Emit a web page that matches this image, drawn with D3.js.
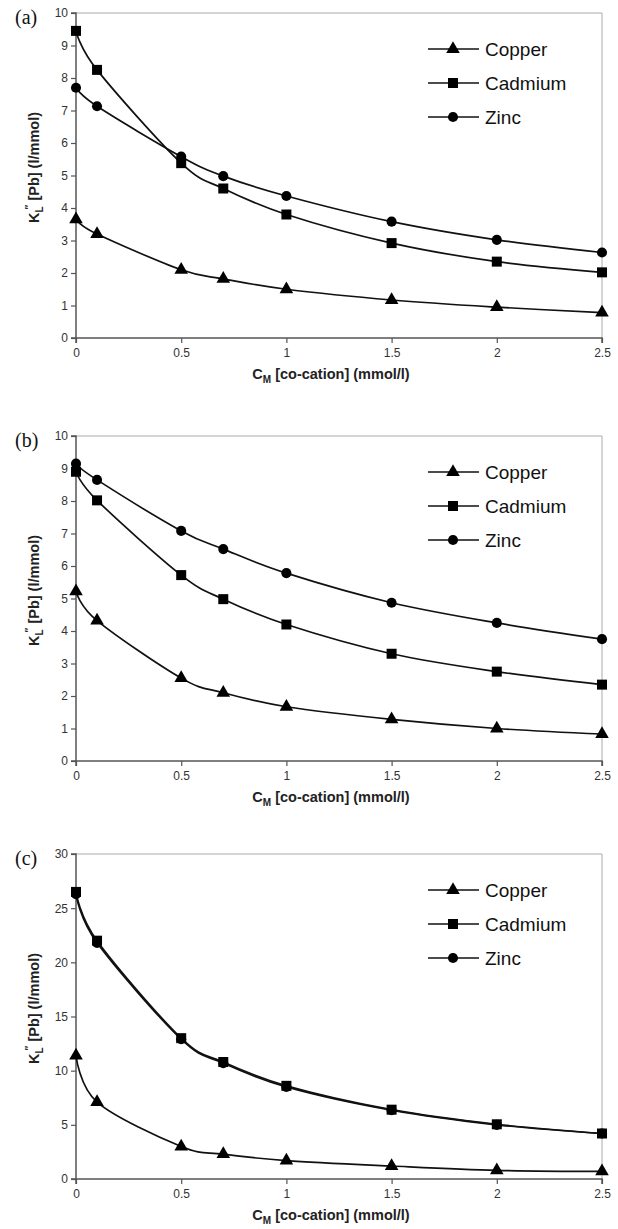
<!DOCTYPE html>
<html>
<head>
<meta charset="utf-8">
<script src="https://cdn.jsdelivr.net/npm/d3@7"></script>
<style>
  body { margin: 0; background: #fff; }
  svg { display: block; }
  .tick text { font-family: "Liberation Sans", Arial, sans-serif; font-size: 12px; fill: #333; }
</style>
</head>
<body>
<svg id="chart" width="618" height="1229"></svg>
<script>
// concentrations of the co-cation (mmol/l)
var conc = [0, 0.1, 0.5, 0.7, 1, 1.5, 2, 2.5];
var xTicks = [0, 0.5, 1, 1.5, 2, 2.5];

var metals = ['Copper', 'Cadmium', 'Zinc'];

// panel (a)
var copperA  = [3.65, 3.2, 2.1, 1.82, 1.5, 1.17, 0.95, 0.78];
var cadmiumA = [9.45, 8.25, 5.38, 4.6, 3.8, 2.92, 2.35, 2.02];
var zincA    = [7.7, 7.13, 5.58, 4.98, 4.37, 3.58, 3.02, 2.63];

// panel (b)
var copperB  = [5.22, 4.32, 2.55, 2.1, 1.67, 1.28, 1.0, 0.83];
var cadmiumB = [8.9, 8.02, 5.72, 4.98, 4.2, 3.3, 2.75, 2.35];
var zincB    = [9.15, 8.65, 7.08, 6.52, 5.78, 4.87, 4.25, 3.75];

// panel (c)
var copperC  = [11.4, 7.1, 3.0, 2.3, 1.7, 1.2, 0.8, 0.7];
var cadmiumC = [26.5, 22.0, 13.0, 10.8, 8.6, 6.4, 5.05, 4.2];
var zincC    = [26.3, 21.8, 12.9, 10.7, 8.5, 6.35, 5.0, 4.2];

var panelLabels = ['(a)', '(b)', '(c)'];
var yMax = [10, 10, 30];
var yTicksA = [0, 1, 2, 3, 4, 5, 6, 7, 8, 9, 10];
var yTicksC = [0, 5, 10, 15, 20, 25, 30];

var panels = [
  {label: panelLabels[0], top: 13,  ymax: yMax[0], ticks: yTicksA, series: [copperA, cadmiumA, zincA]},
  {label: panelLabels[1], top: 436, ymax: yMax[1], ticks: yTicksA, series: [copperB, cadmiumB, zincB]},
  {label: panelLabels[2], top: 854, ymax: yMax[2], ticks: yTicksC, series: [copperC, cadmiumC, zincC]}
];

var svg = d3.select('#chart');

var left = 76, right = 602, plotH = 325;
var font = '"Liberation Sans", Arial, sans-serif';

var x = d3.scaleLinear().domain([0, 2.5]).range([left, right]);

var symbols = [d3.symbolTriangle, d3.symbolSquare, d3.symbolCircle];
var symSize = [80, 100, 80];

panels.forEach(function(p){

  var y = d3.scaleLinear().domain([0, p.ymax]).range([p.top + plotH, p.top]);
  var g = svg.append('g');

  // light frame top / right
  g.append('path')
    .attr('d', 'M' + left + ',' + p.top + 'H' + right + 'V' + (p.top + plotH))
    .attr('fill', 'none')
    .attr('stroke', '#aaa')
    .attr('stroke-width', 1);

  var yAxis = d3.axisLeft(y).tickValues(p.ticks).tickSize(5).tickPadding(3).tickFormat(d3.format('d'));
  var xAxis = d3.axisBottom(x).tickValues(xTicks).tickSize(5).tickPadding(5).tickFormat(function(d){ return d; });

  var ya = g.append('g').attr('transform', 'translate(' + left + ',0)').call(yAxis);
  var xa = g.append('g').attr('transform', 'translate(0,' + (p.top + plotH) + ')').call(xAxis);
  [ya, xa].forEach(function(a){
    a.select('.domain').attr('stroke', '#555').attr('stroke-width', 1.5);
    a.selectAll('.tick line').attr('stroke', '#555').attr('stroke-width', 1.2);
  });
  xa.select('.domain').attr('d', 'M' + left + ',5V0H' + right + 'V5');
  ya.select('.domain').attr('d', 'M-5,' + p.top + 'H0V' + (p.top + plotH) + 'H-5');

  // lines
  var line = d3.line()
    .x(function(d, i){ return x(conc[i]); })
    .y(function(d){ return y(d); })
    .curve(d3.curveCatmullRom.alpha(0));

  // draw zinc first so cadmium shows on top like the original
  [2, 1, 0].forEach(function(k){
    g.append('path')
      .datum(p.series[k])
      .attr('d', line)
      .attr('fill', 'none')
      .attr('stroke', '#111')
      .attr('stroke-width', 1.7);
  });

  [2, 1, 0].forEach(function(k){
    g.selectAll('.m' + k)
      .data(p.series[k])
      .enter().append('path')
      .attr('class', 'm' + k)
      .attr('transform', function(d, i){ return 'translate(' + x(conc[i]) + ',' + y(d) + ')'; })
      .attr('d', d3.symbol().type(symbols[k]).size(symSize[k]))
      .attr('fill', '#000');
  });

  // legend
  metals.forEach(function(m, k){
    var ly = p.top + 36 + k * 34;
    g.append('line')
      .attr('x1', 428).attr('x2', 479)
      .attr('y1', ly).attr('y2', ly)
      .attr('stroke', '#111').attr('stroke-width', 1.7);
    g.append('path')
      .attr('transform', 'translate(453,' + ly + ')')
      .attr('d', d3.symbol().type(symbols[k]).size(symSize[k]))
      .attr('fill', '#000');
    g.append('text')
      .attr('x', 485).attr('y', ly + 7)
      .attr('font-family', font).attr('font-size', 19)
      .attr('fill', '#111')
      .text(m);
  });

  // panel label
  g.append('text')
    .attr('x', 15).attr('y', p.top + 11)
    .attr('font-family', '"Liberation Serif", "Times New Roman", serif')
    .attr('font-size', 20)
    .attr('fill', '#111')
    .text(p.label);

  // x title
  var xt = g.append('text')
    .attr('x', 331).attr('y', p.top + plotH + 41)
    .attr('text-anchor', 'middle')
    .attr('font-family', font).attr('font-size', 14.5).attr('font-weight', 'bold')
    .attr('fill', '#222');
  xt.append('tspan').text('C');
  xt.append('tspan').attr('font-size', 10).attr('dy', 4).text('M');
  xt.append('tspan').attr('dy', -4).text(' [co-cation] (mmol/l)');

  // y title
  var yt = g.append('text')
    .attr('transform', 'translate(' + 39 + ',' + (p.top + plotH / 2 - 8) + ') rotate(-90)')
    .attr('text-anchor', 'middle')
    .attr('font-family', font).attr('font-size', 14.5).attr('font-weight', 'bold')
    .attr('fill', '#222');
  yt.append('tspan').text('K');
  yt.append('tspan').attr('font-size', 10).attr('dy', 4).text('L');
  yt.append('tspan').attr('font-size', 10).attr('dy', -10).attr('dx', -3).text('\u2033');
  yt.append('tspan').attr('dy', 6).text(' [Pb] (l/mmol)');
});
</script>
</body>
</html>
